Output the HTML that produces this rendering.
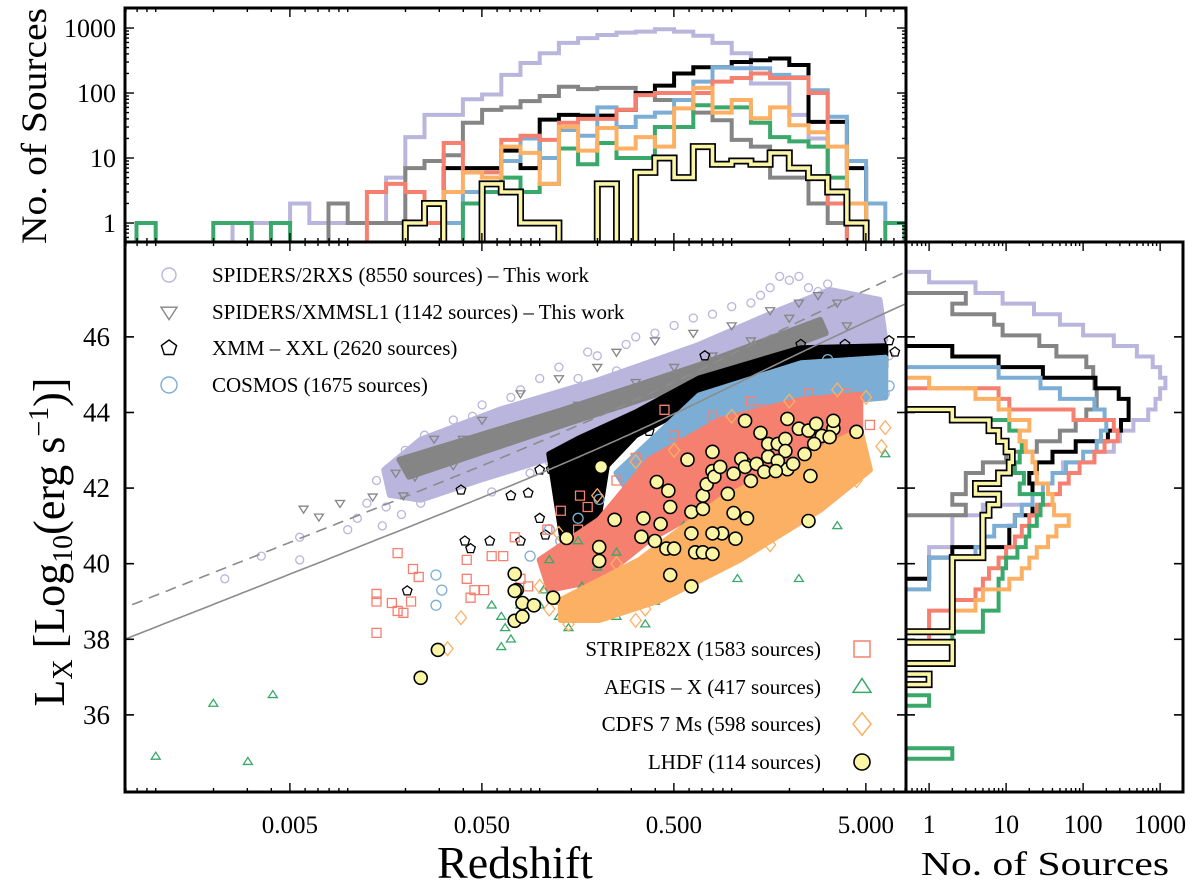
<!DOCTYPE html>
<html><head><meta charset="utf-8">
<style>
html,body{margin:0;padding:0;background:#fff;}
svg{display:block;font-family:"Liberation Serif",serif;}
</style></head>
<body>
<svg id="fig" width="1200" height="889" viewBox="0 0 1200 889" xmlns="http://www.w3.org/2000/svg">
<defs>
<clipPath id="clipMain"><rect x="125" y="242" width="781" height="550"/></clipPath>
<clipPath id="clipTop"><rect x="125" y="8" width="781" height="234"/></clipPath>
<clipPath id="clipRight"><rect x="906" y="242" width="277" height="550"/></clipPath>
</defs>
<g id="mainG" clip-path="url(#clipMain)"></g>
<g id="topG" clip-path="url(#clipTop)"></g>
<g id="rightG" clip-path="url(#clipRight)"></g>
<g id="axesG"></g>
<g id="legendG"></g>
</svg>
<script>
// ---------- data ----------
const seriesNames = ["2RXS","XMMSL1","XXL","COSMOS","STRIPE82X","AEGIS","CDFS","LHDF"];
const seriesColors = ["#b9b5dc","#858585","#000000","#7caed5","#f6806f","#3aa86b","#fcb063","#fbf6a6"];

// top histogram: bins of 0.1 dex in log10(z), first bin lower edge:
const zBinStart = -3.1;
const zBinWidth = 0.1;
const zHist2RXS =   [0,0,0,0,0,1,1,1,2,1,1,1,1,5,21,46,46,80,95,190,290,410,590,700,780,850,880,960,880,760,590,410,140,140,46,20,2,0,0,0];
const zHistXMMSL1 = [0,0,0,0,0,0,0,0,0,0,2,1,1,1,7,9,11,35,55,60,75,90,125,115,120,120,100,78,78,50,38,19,15,5,5,2,1,0,0,0];
const zHistXXL =    [0,0,0,0,0,0,0,0,0,0,0,0,0,0,0,0,7,7,7,13,7,39,46,45,45,55,100,130,200,250,250,300,320,340,270,36,36,7,0,0];
const zHistCOSMOS = [0,0,0,0,0,0,0,0,0,0,0,0,0,0,0,0,1,3,3,9,20,10,27,22,60,30,43,50,78,150,250,240,240,190,175,110,43,9,2,1];
const zHistS82X =   [0,0,0,0,0,0,0,0,0,0,0,0,3,4,3,1,17,6,6,19,22,19,35,40,40,55,93,100,100,100,150,170,200,170,170,100,2,0,0,0];
const zHistAEGIS =  [1,0,0,0,1,1,0,1,0,0,0,0,0,0,0,0,0,2,3,5,3,4,14,8,17,10,10,30,30,65,60,60,35,21,18,15,5,2,0,1];
const zHistCDFS =   [0,0,0,0,0,0,0,0,0,0,0,0,0,0,0,0,3,6,5,15,12,4,30,13,29,14,21,15,58,120,50,78,41,60,32,25,15,2,0,0];
const zHistLHDF =   [0,0,0,0,0,0,0,0,0,0,0,0,0,0,1,2,0,0,4,3,1,1,0,0,4,0,6,10,5,15,8,9,8,12,7,5,3,1,0,0];

// right histogram: bins of 0.28 dex in log10(Lx), first bin upper edge:
const lBinTop = 47.72;
const lBinWidth = 0.28;
const lHist2RXS =   [1,4,9,23,50,100,250,500,800,1000,1170,1000,870,700,450,300,250,140,55,40,22,22,5,2,2,2,1,1,1,0,0,0,0,0,0,0,0,0,0,0,0,0,0,0,0,0,0,0];
const lHistXMMSL1 = [0,0,3,2,7,9,27,45,110,135,140,150,150,110,80,50,25,10,5,3,3,2,3,0,0,0,0,0,0,0,0,0,0,0,0,0,0,0,0,0,0,0,0,0,0,0,0,0];
const lHistXXL =    [0,0,0,0,0,0,0,2,8,30,145,290,390,390,310,210,80,40,25,20,22,22,22,13,11,11,2,1,1,0,0,0,0,0,0,0,0,0,0,0,0,0,0,0,0,0,0,0];
const lHistCOSMOS = [0,0,0,0,0,0,0,0,0,8,28,50,140,190,200,170,150,100,60,40,30,22,16,13,7,5,4,1,1,1,0,0,0,0,0,0,0,0,0,0,0,0,0,0,0,0,0,0];
const lHistS82X =   [0,0,0,0,0,0,0,0,0,0,0,8,11,75,250,280,190,140,90,65,50,40,25,20,16,13,10,8,6,5,4,2,1,1,1,0,0,0,0,0,0,0,0,0,0,0,0,0];
const lHistAEGIS =  [0,0,0,0,0,0,0,0,0,0,0,0,0,2,11,15,16,15,13,17,15,30,28,25,20,18,14,10,9,8,8,8,5,5,2,0,0,0,0,0,1,0,0,0,0,2,0,0];
const lHistCDFS =   [0,0,0,0,0,0,0,0,0,0,1,4,8,11,20,15,18,22,24,25,35,40,42,65,45,35,25,20,16,11,5,4,2,2,0,0,0,0,0,0,0,0,0,0,0,0,0,0];
const lHistLHDF =   [0,0,0,0,0,0,0,0,0,0,0,0,0,2,6,8,10,12,11,8,4,8,6,5,5,5,5,2,2,2,2,2,2,2,0,2,2,0,1,0,0,0,0,0,0,0,0,0];

// scatter: dense cores as [log10 z, log10 Lx] outlines
const core2RXS = [[-1.81,42.48],[-1.62,43.28],[-1.21,44.07],[-0.69,44.86],[-0.17,45.79],[0.25,46.71],[0.51,47.24],[0.77,46.98],[0.80,45.92],[0.67,44.99],[0.36,44.73],[-0.06,44.33],[-0.48,43.54],[-0.89,42.88],[-1.31,42.22],[-1.62,41.69],[-1.78,41.82]];
const coreXMMSL1 = [[-1.73,42.75],[-0.89,44.05],[-0.17,45.25],[0.46,46.45],[0.49,46.1],[-0.17,44.85],[-0.89,43.65],[-1.68,42.3]];
const coreXXL = [[-0.95,42.9],[-0.8,43.3],[-0.5,44.0],[-0.17,44.9],[0.36,45.7],[0.8,45.75],[0.8,45.2],[0.36,45.1],[-0.17,44.3],[-0.5,43.4],[-0.65,42.6],[-0.7,41.0],[-0.88,40.6]];
const coreCOSMOS = [[-0.6,42.4],[-0.17,44.45],[0.36,45.3],[0.8,45.45],[0.8,44.4],[0.36,44.2],[-0.17,43.4],[-0.55,42.0]];
const coreS82X = [[-1.0,40.1],[-0.69,41.16],[-0.43,42.75],[-0.06,43.8],[0.36,44.33],[0.67,44.47],[0.67,43.28],[0.36,42.48],[-0.06,41.69],[-0.43,40.63],[-0.69,39.57],[-0.95,39.31]];
const coreCDFS = [[-0.89,39.04],[-0.48,40.1],[-0.06,41.69],[0.36,42.75],[0.67,43.54],[0.72,42.48],[0.46,41.42],[0.04,40.1],[-0.37,39.04],[-0.69,38.51],[-0.89,38.51]];

// individual sources [log10 z, log10 Lx]
const pts2RXS = [[-2.64,39.6],[-2.45,40.2],[-2.25,40.7],[-2.25,40.1],[-2.0,40.9],[-1.95,41.2],[-1.9,41.6],[-1.85,42.2],[-1.8,41.5],[-1.75,42.6],[-1.7,43.0],[-1.65,42.0],[-1.6,43.4],[-1.55,43.1],[-1.5,42.0],[-1.45,43.8],[-1.4,42.5],[-1.35,43.9],[-1.3,44.2],[-1.25,41.9],[-1.2,43.2],[-1.15,44.4],[-1.1,44.6],[-1.05,42.4],[-1.0,44.9],[-0.95,42.7],[-0.9,45.2],[-0.85,44.0],[-0.8,44.9],[-0.75,45.6],[-0.7,45.5],[-0.65,43.3],[-0.6,45.1],[-0.55,45.8],[-0.5,46.0],[-0.45,43.6],[-0.4,46.1],[-0.3,46.3],[-0.25,44.0],[-0.2,46.5],[-0.1,46.6],[0.0,46.8],[0.05,44.3],[0.1,46.9],[0.15,47.1],[0.2,47.3],[0.25,47.6],[0.3,47.5],[0.35,47.6],[0.4,47.3],[0.45,47.2],[0.5,47.4],[0.55,47.0],[0.6,46.5],[0.65,46.8],[0.7,46.2],[0.75,44.7],[0.8,44.5],[0.82,45.5],[0.78,46.0],[-1.62,41.6],[-1.72,41.3],[-1.82,41.0],[-1.48,42.8],[-1.2,42.7],[-0.9,43.0]];
const ptsXMMSL1 = [[-2.23,41.45],[-2.15,41.24],[-2.04,41.6],[-1.87,41.77],[-1.71,41.8],[-1.65,42.3],[-1.6,42.8],[-1.55,43.3],[-1.45,42.6],[-1.4,43.3],[-1.3,43.8],[-1.2,43.4],[-1.1,44.5],[-1.0,43.8],[-0.9,44.9],[-0.8,44.2],[-0.7,45.2],[-0.6,45.6],[-0.5,44.8],[-0.4,45.9],[-0.3,45.2],[-0.2,46.1],[-0.1,45.5],[0.0,46.3],[0.1,45.9],[0.2,46.7],[0.3,46.5],[0.35,46.9],[0.45,47.1],[0.55,46.9],[0.6,46.3],[-1.75,42.4]];
const ptsXXL = [[-1.69,39.28],[-1.39,40.6],[-1.36,40.4],[-1.26,40.6],[-1.1,40.6],[-0.97,40.76],[-1.0,41.2],[-1.15,41.8],[-0.94,42.5],[-0.84,42.75],[-1.41,41.95],[-0.27,44.5],[-0.14,45.5],[0.15,45.2],[0.36,45.8],[0.62,45.4],[0.69,45.1],[0.59,45.8],[0.82,45.9],[-0.69,42.75],[-0.43,43.5],[-1.06,41.87],[-1.0,42.48],[0.78,45.3],[0.85,45.6],[0.5,45.5]];
const ptsCOSMOS = [[-1.54,39.7],[-1.51,39.3],[-1.54,38.9],[-1.05,40.2],[-0.89,40.6],[-0.69,41.7],[-0.5,42.5],[-0.37,42.75],[-0.2,43.6],[0.0,44.2],[0.2,44.7],[0.4,45.0],[0.6,45.1],[0.72,44.55],[0.77,44.6],[0.82,44.7],[0.7,45.3],[0.5,45.4],[-0.8,41.2],[-0.95,40.9]];
const ptsS82X = [[-1.85,38.17],[-1.85,39.2],[-1.85,39.0],[-1.77,38.96],[-1.74,38.75],[-1.71,38.7],[-1.67,39.0],[-1.74,40.28],[-1.66,39.86],[-1.63,39.65],[-1.38,39.6],[-1.38,40.1],[-1.34,39.3],[-1.36,39.1],[-1.29,39.3],[-1.25,40.2],[-1.19,40.2],[-1.13,40.7],[-1.06,39.4],[-1.1,39.6],[-0.96,40.9],[-0.89,41.4],[-0.79,41.8],[-0.35,44.07],[0.15,44.07],[0.3,44.07],[0.51,43.67],[0.72,43.67],[-0.6,42.2],[-0.5,42.8],[-0.3,43.4],[-0.1,43.9],[0.1,44.3],[0.4,44.5],[0.6,44.5],[-0.75,41.5],[-0.8,40.9],[-0.7,40.5],[-0.6,39.8],[-0.85,39.9],[-0.95,39.7]];
const ptsAEGIS = [[-3.0,34.9],[-2.7,36.3],[-2.52,34.76],[-2.39,36.53],[0.8,42.9],[-1.25,38.9],[-1.2,38.6],[-1.18,38.3],[-1.15,38.0],[-1.2,37.8],[-1.1,38.9],[-0.98,39.3],[-0.9,39.0],[-0.85,38.3],[-0.82,38.7],[-0.78,39.4],[-0.72,39.0],[-0.65,39.3],[-0.58,38.9],[-0.52,39.5],[-0.47,39.7],[-0.4,39.0],[-0.3,39.4],[-0.25,39.8],[-0.2,40.1],[-0.12,40.3],[-0.05,40.6],[0.0,40.2],[0.08,40.9],[0.12,40.6],[0.22,41.1],[0.3,41.3],[0.38,41.7],[0.45,41.5],[0.5,42.1],[0.55,41.0],[0.15,41.9],[-0.25,41.0],[-0.6,40.3],[-0.95,40.1],[-0.8,40.6],[-0.2,41.3],[0.05,41.6],[0.03,39.6],[-0.13,39.8],[-0.45,38.4],[-0.6,38.6],[-0.9,38.6],[-1.0,38.9],[0.35,39.6],[0.6,42.5],[0.45,42.8],[-0.35,40.5],[-0.7,39.9]];
const ptsCDFS = [[-1.48,37.75],[-1.41,38.57],[-1.0,39.4],[-0.95,38.8],[-0.85,38.4],[-0.75,38.9],[-0.6,39.2],[-0.5,38.5],[-0.45,38.8],[-0.35,39.3],[-0.2,39.8],[0.0,40.3],[0.2,40.5],[0.5,41.7],[0.65,42.2],[0.78,43.1],[0.8,43.6],[0.7,44.4],[0.55,44.6],[0.3,44.3],[0.0,43.9],[-0.3,43.0],[-0.5,42.7],[-0.7,41.8],[-0.9,40.8],[-0.6,40.0],[-0.2,41.0],[0.3,42.6],[0.47,43.25]];
const ptsLHDF = [[-1.53,37.72],[-1.62,36.98],[-1.13,39.73],[-1.12,39.3],[-1.09,38.96],[-1.03,38.9],[-1.13,38.49],[-1.09,38.6],[-0.93,39.1],[-0.86,40.68],[-0.69,40.44],[-0.69,40.07],[-0.68,42.56],[-0.61,41.16],[-0.46,41.2],[-0.47,40.71],[-0.4,40.6],[-0.34,40.4],[-0.3,40.4],[-0.37,41.05],[-0.33,41.93],[-0.32,41.5],[-0.39,42.16],[-0.23,42.75],[-0.21,41.37],[-0.21,40.8],[-0.19,40.3],[-0.15,40.3],[-0.1,40.26],[-0.15,41.45],[-0.15,41.8],[-0.13,42.1],[-0.1,42.45],[-0.1,42.96],[-0.09,42.3],[-0.06,42.56],[-0.02,41.85],[0.01,42.38],[0.01,41.34],[0.07,42.64],[0.08,41.2],[-0.05,40.8],[-0.1,40.8],[0.05,42.77],[0.07,42.56],[0.13,42.64],[0.17,42.43],[0.19,42.83],[0.19,43.17],[0.24,43.17],[0.28,43.3],[0.28,42.98],[0.29,42.5],[0.24,42.72],[0.23,42.45],[0.07,43.78],[0.15,43.46],[0.29,43.83],[0.35,43.57],[0.4,43.52],[0.44,43.7],[0.47,43.38],[0.53,43.57],[0.53,43.78],[0.51,43.35],[0.43,43.17],[0.38,42.9],[0.41,42.32],[0.4,41.13],[0.65,43.49],[0.32,42.64],[0.1,42.19],[0.02,40.66],[-1.13,39.28],[-0.32,39.7],[-0.21,39.4]];

// flux limits (log10 erg/s/cm^2)
const fluxLimitSolid = -13.02;
const fluxLimitDashed = -12.18;

// axis ticks
const xTickValues = [0.005,0.05,0.5,5];
const xTickLabels = ["0.005","0.050","0.500","5.000"];
const yTickValues = [36,38,40,42,44,46];
const countTickValues = [1,10,100,1000];
const countTickLabels = ["1","10","100","1000"];

// ---------- scales ----------
const MX0=125, MX1=906, MY0=242, MY1=792;
const LZMIN=-3.16, LZMAX=0.908;
const LMIN=33.96, LMAX=48.51;
const TY0=8, TY1=242, TCMIN=-0.292, TCMAX=3.308;
const RX0=906, RX1=1183, RCMIN=-0.3, RCMAX=3.297;
function X(lz){return MX0+(lz-LZMIN)/(LZMAX-LZMIN)*(MX1-MX0);}
function Y(L){return MY1-(L-LMIN)/(LMAX-LMIN)*(MY1-MY0);}
function TY(c){const v=c>0?Math.log10(c):-2;return TY1-(v-TCMIN)/(TCMAX-TCMIN)*(TY1-TY0);}
function RX(c){const v=c>0?Math.log10(c):-2;return RX0+(v-RCMIN)/(RCMAX-RCMIN)*(RX1-RX0);}

const NS="http://www.w3.org/2000/svg";
function mk(tag,attrs,parent){const e=document.createElementNS(NS,tag);for(const k in attrs)e.setAttribute(k,attrs[k]);if(parent)parent.appendChild(e);return e;}
const mainG=document.getElementById('mainG'),topG=document.getElementById('topG'),rightG=document.getElementById('rightG'),axesG=document.getElementById('axesG'),legendG=document.getElementById('legendG');

// ---------- markers ----------
function markerPath(shape,x,y,s){
  if(shape==='tridown') return `M${x-s},${y-s*0.6}L${x+s},${y-s*0.6}L${x},${y+s*0.95}Z`;
  if(shape==='triup') return `M${x-s},${y+s*0.6}L${x+s},${y+s*0.6}L${x},${y-s*0.95}Z`;
  if(shape==='square') return `M${x-s},${y-s}h${2*s}v${2*s}h${-2*s}Z`;
  if(shape==='diamond') return `M${x},${y-s*1.25}L${x+s},${y}L${x},${y+s*1.25}L${x-s},${y}Z`;
  if(shape==='pentagon'){let d='';for(let i=0;i<5;i++){const a=-Math.PI/2+i*2*Math.PI/5;d+=(i?'L':'M')+(x+s*Math.cos(a)).toFixed(1)+','+(y+s*Math.sin(a)).toFixed(1);}return d+'Z';}
  return '';
}
function drawMarker(parent,shape,x,y,s,stroke,fill,sw){
  if(shape==='circle') return mk('circle',{cx:x.toFixed(1),cy:y.toFixed(1),r:s,fill:fill,stroke:stroke,'stroke-width':sw},parent);
  return mk('path',{d:markerPath(shape,x,y,s),fill:fill,stroke:stroke,'stroke-width':sw},parent);
}

// ---------- flux-limit lines ----------
function dL_cm(z){const n=200;let s=0;const h=z/n;for(let i=0;i<=n;i++){const zz=i*h;const E=Math.sqrt(0.3*Math.pow(1+zz,3)+0.7);const w=(i===0||i===n)?1:(i%2?4:2);s+=w/E;}const Dc=4282.7*s*h/3;return (1+z)*Dc*3.0857e24;}
function fluxLine(logf,dash,name){
  let d='';
  for(let lz=LZMIN-0.05;lz<=LZMAX+0.05;lz+=0.02){const z=Math.pow(10,lz);const L=Math.log10(4*Math.PI)+2*Math.log10(dL_cm(z))+logf;d+=(d?'L':'M')+X(lz).toFixed(1)+','+Y(L).toFixed(1);}
  const p=mk('path',{d:d,fill:'none',stroke:'#8c8c8c','stroke-width':1.6},mainG);
  if(dash)p.setAttribute('stroke-dasharray','11,7');
  
  
}

// ---------- scatter ----------
function drawCore(poly,color,name){
  const d=poly.map((p,i)=>(i?'L':'M')+X(p[0]).toFixed(1)+','+Y(p[1]).toFixed(1)).join('')+'Z';
  const e=mk('path',{d:d,fill:color,stroke:color,'stroke-width':6,'stroke-linejoin':'round'},mainG);
  
  
}
function drawPts(pts,shape,s,stroke,fill,sw,name){
  const g=mk('g',{},mainG);
  
  
  pts.forEach(p=>{
    const m=drawMarker(g,shape,X(p[0]),Y(p[1]),s,stroke,fill,sw);
    
    
  });
}

drawCore(core2RXS,seriesColors[0],'cloud-2rxs');
drawPts(pts2RXS,'circle',4,seriesColors[0],'none',1.3,'points-2rxs');
drawCore(coreXMMSL1,seriesColors[1],'cloud-xmmsl1');
drawPts(ptsXMMSL1,'tridown',4.5,seriesColors[1],'none',1.3,'points-xmmsl1');
drawCore(coreXXL,seriesColors[2],'cloud-xxl');
drawPts(ptsXXL,'pentagon',5,'#000','none',1.3,'points-xxl');
drawCore(coreCOSMOS,seriesColors[3],'cloud-cosmos');
drawPts(ptsCOSMOS,'circle',5,seriesColors[3],'none',1.3,'points-cosmos');
drawCore(coreS82X,seriesColors[4],'cloud-stripe82x');
drawPts(ptsS82X,'square',4.5,seriesColors[4],'none',1.3,'points-stripe82x');
drawPts(ptsAEGIS,'triup',4.5,seriesColors[5],'none',1.3,'points-aegis');
drawCore(coreCDFS,seriesColors[6],'cloud-cdfs');
drawPts(ptsCDFS,'diamond',5.5,seriesColors[6],'none',1.3,'points-cdfs');
drawPts(ptsLHDF,'circle',6.5,'#000',seriesColors[7],1.6,'points-lhdf');
fluxLine(fluxLimitDashed,true,'flux-limit-dashed-line');
fluxLine(fluxLimitSolid,false,'flux-limit-solid-line');

// ---------- histograms ----------
function topHist(counts,color,name,yellow){
  let d='M'+X(zBinStart).toFixed(1)+','+TY(0);
  for(let k=0;k<counts.length;k++){
    const x0=X(zBinStart+k*zBinWidth),x1=X(zBinStart+(k+1)*zBinWidth),y=TY(counts[k]);
    d+='L'+x0.toFixed(1)+','+y.toFixed(1)+'L'+x1.toFixed(1)+','+y.toFixed(1);
  }
  d+='L'+X(zBinStart+counts.length*zBinWidth).toFixed(1)+','+TY(0);
  if(yellow){const b=mk('path',{d:d,fill:'none',stroke:'#000','stroke-width':7},topG);}
  const p=mk('path',{d:d,fill:'none',stroke:color,'stroke-width':yellow?3.6:4},topG);
  
  
}
function rightHist(counts,color,name,yellow){
  let d='M'+RX(0)+','+Y(lBinTop).toFixed(1);
  for(let j=0;j<counts.length;j++){
    const y0=Y(lBinTop-j*lBinWidth),y1=Y(lBinTop-(j+1)*lBinWidth),x=RX(counts[j]);
    d+='L'+x.toFixed(1)+','+y0.toFixed(1)+'L'+x.toFixed(1)+','+y1.toFixed(1);
  }
  d+='L'+RX(0)+','+Y(lBinTop-counts.length*lBinWidth).toFixed(1);
  if(yellow){const b=mk('path',{d:d,fill:'none',stroke:'#000','stroke-width':7},rightG);}
  const p=mk('path',{d:d,fill:'none',stroke:color,'stroke-width':yellow?3.6:4},rightG);
  
  
}
const zHists=[zHist2RXS,zHistXMMSL1,zHistXXL,zHistCOSMOS,zHistS82X,zHistAEGIS,zHistCDFS,zHistLHDF];
const lHists=[lHist2RXS,lHistXMMSL1,lHistXXL,lHistCOSMOS,lHistS82X,lHistAEGIS,lHistCDFS,lHistLHDF];
[0,1,2,3,4,5,6,7].forEach(i=>{
  topHist(zHists[i],seriesColors[i],'z-hist-'+seriesNames[i].toLowerCase(),i===7);
  rightHist(lHists[i],seriesColors[i],'lx-hist-'+seriesNames[i].toLowerCase(),i===7);
});

// ---------- axes ----------
function line(x1,y1,x2,y2,w,name){const e=mk('line',{x1:x1,y1:y1,x2:x2,y2:y2,stroke:'#000','stroke-width':w},axesG);return e;}
function text(x,y,str,size,anchor,name,extra){const e=mk('text',Object.assign({x:x,y:y,'font-size':size,'text-anchor':anchor,fill:'#000'},extra||{}),axesG);e.textContent=str;return e;}
const fr=(x,y,w,h,name)=>{const e=mk('rect',{x:x,y:y,width:w,height:h,fill:'none',stroke:'#000','stroke-width':3},axesG);};
fr(MX0,MY0,MX1-MX0,MY1-MY0,'main-frame');
fr(MX0,TY0,MX1-MX0,TY1-TY0,'top-hist-frame');
fr(RX0,MY0,RX1-RX0,MY1-MY0,'right-hist-frame');

for(let dec=-4;dec<=1;dec++){
  for(let m=1;m<=9;m++){
    const lz=dec+Math.log10(m);
    if(lz<LZMIN||lz>LZMAX)continue;
    const x=X(lz), major=(m===5), len=major?9:4;
    line(x,MY1,x,MY1-len,1.4,'x-tick');
    line(x,MY0,x,MY0+len,1.4,'x-tick');
    line(x,TY1,x,TY1-len,1.4,'x-tick');
    line(x,TY0,x,TY0+len,1.4,'x-tick');
  }
}
xTickValues.forEach((v,i)=>text(X(Math.log10(v)),833,xTickLabels[i],25,'middle','x-tick-label'));
yTickValues.forEach(v=>{
  const y=Y(v);
  line(MX0,y,MX0+9,y,1.6,'y-tick');line(MX1,y,MX1-9,y,1.6,'y-tick');
  line(RX0,y,RX0+9,y,1.6,'y-tick');line(RX1,y,RX1-9,y,1.6,'y-tick');
  text(110,y+9,String(v),27,'end','y-tick-label');
});
for(let dec=-1;dec<=3;dec++){
  for(let m=1;m<=9;m++){
    const v=dec+Math.log10(m);
    if(v>=TCMIN&&v<=TCMAX){const y=TY(Math.pow(10,v)),len=m===1?9:4;line(MX0,y,MX0+len,y,1.4,'count-tick');line(MX1,y,MX1-len,y,1.4,'count-tick');}
    if(v>=RCMIN&&v<=RCMAX){const x=RX(Math.pow(10,v)),len=m===1?9:4;line(x,MY1,x,MY1-len,1.4,'count-tick');line(x,MY0,x,MY0+len,1.4,'count-tick');}
  }
}
countTickValues.forEach((v,i)=>{
  text(116,TY(v)+9,countTickLabels[i],26,'end','top-hist-tick-label');
  text(RX(v),833,countTickLabels[i],26,'middle','right-hist-tick-label');
});
text(515,878,'Redshift',46,'middle','x-axis-title');
text(1045,875,'No.  of Sources',34,'middle','right-hist-x-title',{textLength:248,lengthAdjust:'spacingAndGlyphs'});
text(0,0,'No.  of Sources',36,'middle','top-hist-y-title',{transform:'translate(46,126) rotate(-90)',textLength:236,lengthAdjust:'spacingAndGlyphs'});
const yt=mk('text',{transform:'translate(64,542) rotate(-90)','font-size':44,'text-anchor':'middle',fill:'#000'},axesG);


yt.innerHTML='L<tspan font-size="28" dy="8">X</tspan><tspan dy="-8"> [Log</tspan><tspan font-size="28" dy="8">10</tspan><tspan dy="-8">(erg s</tspan><tspan font-size="28" dy="-16">−1</tspan><tspan dy="16">)]</tspan>';

// ---------- legends ----------
const legUpper=[
  {i:0,shape:'circle',s:7,label:'SPIDERS/2RXS (8550 sources) – This work',y:275},
  {i:1,shape:'tridown',s:8,label:'SPIDERS/XMMSL1 (1142 sources) – This work',y:312},
  {i:2,shape:'pentagon',s:8,label:'XMM – XXL (2620 sources)',y:348},
  {i:3,shape:'circle',s:8,label:'COSMOS (1675 sources)',y:385}
];
const legLower=[
  {i:4,shape:'square',s:8,label:'STRIPE82X (1583 sources)',y:649},
  {i:5,shape:'triup',s:9,label:'AEGIS – X (417 sources)',y:687},
  {i:6,shape:'diamond',s:9,label:'CDFS 7 Ms (598 sources)',y:724},
  {i:7,shape:'circle',s:8,label:'LHDF (114 sources)',y:762}
];
legUpper.forEach(e=>{
  const g=mk('g',{},legendG);
  
  
  drawMarker(g,e.shape,169,e.y,e.s,e.i===2?'#000':seriesColors[e.i],'none',1.4);
  const t=mk('text',{x:212,y:e.y+7,'font-size':21,fill:'#000'},g);t.textContent=e.label;
});
legLower.forEach(e=>{
  const g=mk('g',{},legendG);
  
  
  const t=mk('text',{x:821,y:e.y+7,'font-size':21,'text-anchor':'end',fill:'#000'},g);t.textContent=e.label;
  if(e.i===7) drawMarker(g,'circle',862,e.y,8,'#000',seriesColors[7],1.6);
  else drawMarker(g,e.shape,862,e.y,e.s,seriesColors[e.i],'none',1.5);
});
</script>
</body></html>
